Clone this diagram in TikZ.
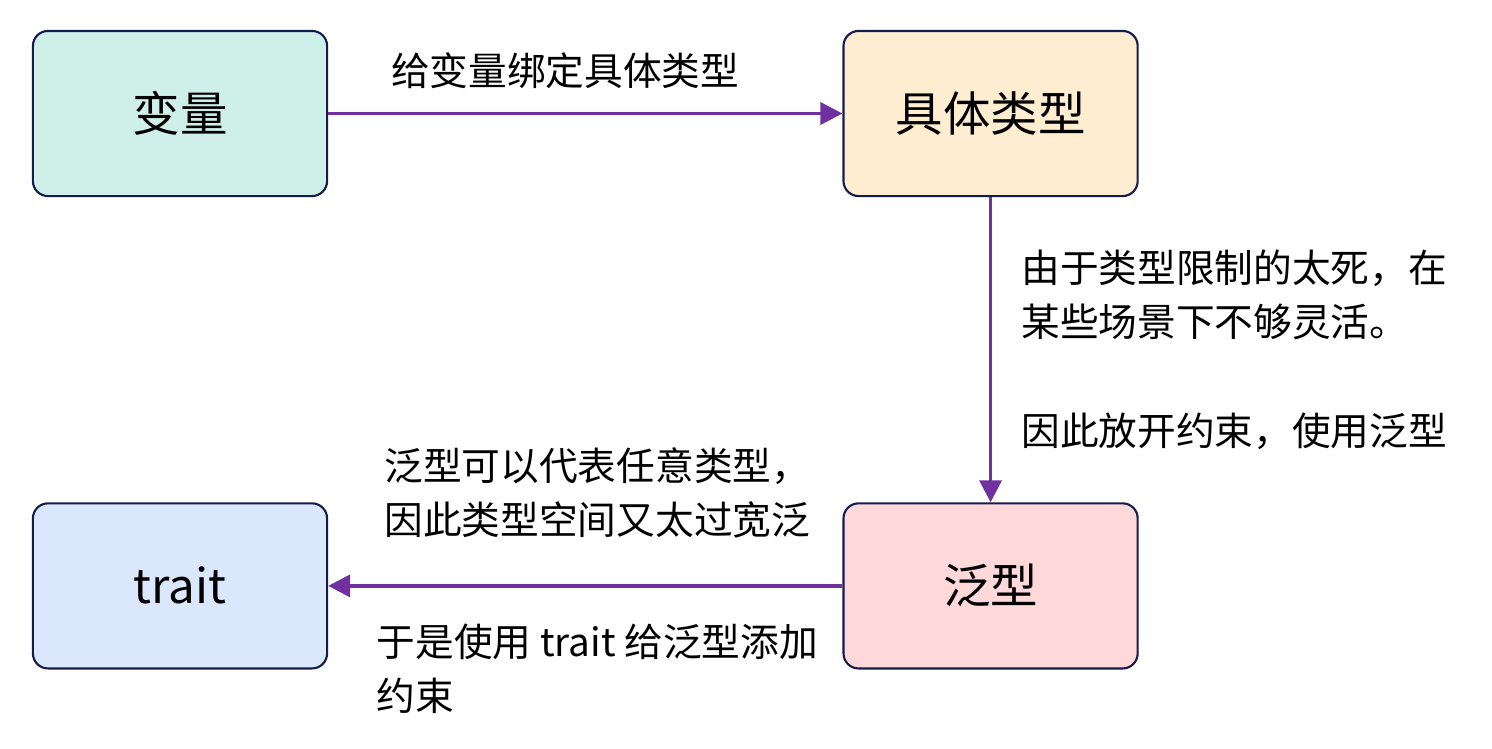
\documentclass[tikz,border=0pt]{standalone}
\usepackage{fontspec}
\setmainfont{Noto Sans CJK SC}
\usepackage{tikz}
\usetikzlibrary{arrows.meta,positioning}

\definecolor{boxline}{HTML}{141B4D}
\definecolor{flowline}{HTML}{7030A0}
\definecolor{mint}{HTML}{CFF0E9}
\definecolor{peach}{HTML}{FFEDD1}
\definecolor{rose}{HTML}{FFD9DA}
\definecolor{sky}{HTML}{DAE7FD}

\tikzset{
  box/.style={draw=boxline, line width=0.6pt, rounded corners=0.15cm,
    minimum width=2.94cm, minimum height=1.65cm,
    font=\fontsize{13.5pt}{16pt}\selectfont},
  flow/.style={draw=flowline, line width=1pt,
    -{Triangle[length=0.22cm,width=0.22cm]}},
  note/.style={font=\fontsize{11pt}{15.4pt}\selectfont, align=left, inner sep=0pt}
}

\begin{document}
\begin{tikzpicture}[x=0.01cm,y=-0.01cm]
  \useasboundingbox (0,0) rectangle (1492,748);
  % the four boxes
  \node[box, fill=mint] (var) at (180,113.5) {变量};
  \node[box, fill=peach, right=5.14cm of var] (concrete) {具体类型};
  \node[box, fill=rose, below=3.05cm of concrete] (generic) {泛型};
  \node[box, fill=sky, below=3.05cm of var] (trait) {trait};
  % connectors
  \draw[flow] (var) -- node[note, above=0.23cm, xshift=-0.2cm] (bindnote) {给变量绑定具体类型} (concrete);
  \draw[flow] (concrete) -- node[note, right=0.29cm] (loosenote)
    {由于类型限制的太死，在\\某些场景下不够灵活。\\[15.4pt]因此放开约束，使用泛型} (generic);
  \draw[flow] (generic) -- node[note, above=0.46cm, xshift=0.12cm] (widenote)
    {泛型可以代表任意类型，\\因此类型空间又太过宽泛}
    node[note, below=0.36cm, xshift=0.12cm] (boundnote)
    {于是使用 trait 给泛型添加\\约束} (trait);
\end{tikzpicture}
\end{document}
